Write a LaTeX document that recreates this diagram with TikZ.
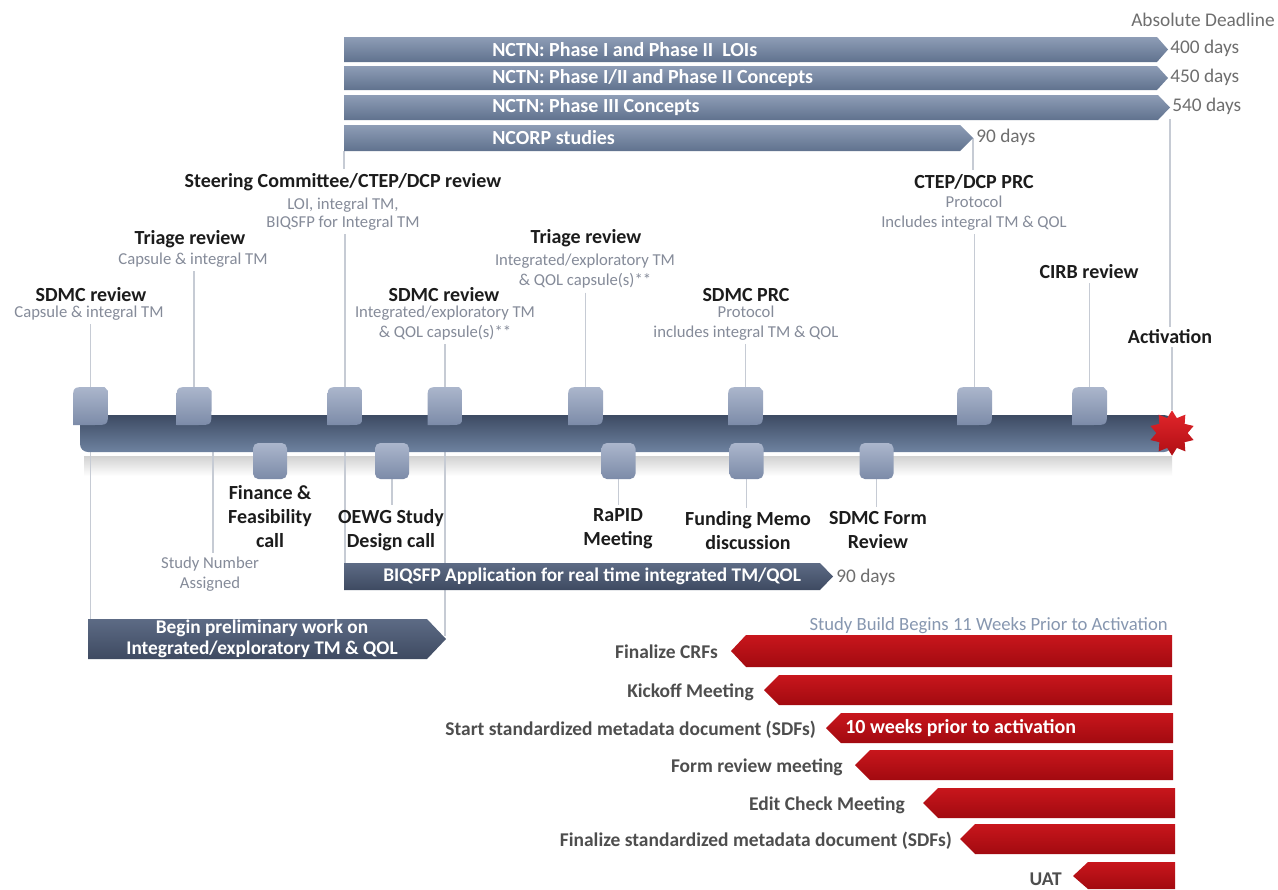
\documentclass[tikz,border=0pt]{standalone}
\usepackage{fontspec}
\setmainfont{Carlito}
\usetikzlibrary{shapes.geometric}
\definecolor{barTop}{HTML}{8E9DB6}
\definecolor{barBot}{HTML}{60728E}
\definecolor{darkTop}{HTML}{5D6B85}
\definecolor{darkBot}{HTML}{3E4A61}
\definecolor{lineGray}{HTML}{C6CBD4}
\definecolor{subGray}{HTML}{858B99}
\definecolor{labelDark}{HTML}{1C1C1C}
\definecolor{redTop}{HTML}{C8161C}
\definecolor{redBot}{HTML}{A20A10}
\definecolor{mkTop}{HTML}{ABB6CC}
\definecolor{mkBot}{HTML}{7C8BA8}
\definecolor{tlTop}{HTML}{3D4B63}
\definecolor{tlBot}{HTML}{6E82A0}
\definecolor{daysGray}{HTML}{6E6E6E}
\definecolor{buildBlue}{HTML}{8797B0}
\definecolor{redLabel}{HTML}{4E4E4E}
\definecolor{starTop}{HTML}{E2262B}
\definecolor{starBot}{HTML}{B00E14}
\pgfdeclarelayer{back}
\pgfdeclarelayer{bg}
\pgfsetlayers{back,bg,main}
\tikzset{
  upmark/.pic={
    \shade[top color=mkTop, bottom color=mkBot] (-17.5,19) -- (-17.5,-5) .. controls (-17.5,-19) .. (-3.5,-19) -- (14,-19) -- (17.5,-15) -- (17.5,5) .. controls (17.5,19) .. (3.5,19) -- cycle;
    \coordinate (-top) at (0,-19);
    \coordinate (-bot) at (0,19);
  },
  lowmark/.pic={
    \shade[top color=mkTop, bottom color=mkBot, rounded corners=4pt] (-17,-18) rectangle (17,18);
    \coordinate (-top) at (0,-18);
    \coordinate (-bot) at (0,18);
  }
}
\begin{document}
\begin{tikzpicture}[x=0.75pt,y=-0.75pt,
  lbl/.style={font=\fontsize{15}{18}\selectfont\bfseries, text=labelDark, inner sep=0pt, align=center},
  sub/.style={font=\fontsize{12.5}{14}\selectfont, text=subGray, inner sep=0pt, align=center},
  bartext/.style={font=\fontsize{15}{16}\selectfont\bfseries, text=white, inner sep=0pt, anchor=west},
  days/.style={font=\fontsize{14.5}{16}\selectfont, text=daysGray, inner sep=0pt, anchor=west},
  redlbl/.style={font=\fontsize{14.6}{16}\selectfont\bfseries, text=redLabel, inner sep=0pt, anchor=east},
  vline/.style={draw=lineGray, line width=1.1pt},
  bluebar/.style={top color=barTop, bottom color=barBot},
  darkbar/.style={top color=darkTop, bottom color=darkBot},
  redbar/.style={top color=redTop, bottom color=redBot},
]
\useasboundingbox (0,0) rectangle (1278,889);
\begin{pgfonlayer}{back}
\fill[white] (0,0) rectangle (1278,889);
\shade[top color=black!18, bottom color=white] (84,456) rectangle (1172,476);
\end{pgfonlayer}

% reference coordinates
\coordinate (b3tip) at (1170,119);
\coordinate (b4bl) at (344,151);
\coordinate (b4tip) at (973,138);
\coordinate (pretop) at (91,619);
\coordinate (pretip) at (446,636);
\coordinate (biqtop) at (345,563);
\coordinate (trlow) at (213,440);

% top bars
\shade[bluebar] (344,37) -- (1157,37) -- (1168,49.5) -- (1157,62) -- (344,62) -- cycle;
\shade[bluebar] (344,66) -- (1157,66) -- (1168,78) -- (1157,90) -- (344,90) -- cycle;
\shade[bluebar] (344,95) -- (1158,95) -- (1170,107.5) -- (1158,120) -- (344,120) -- cycle;
\shade[bluebar] (344,125) -- (960,125) -- (973,138) -- (960,151) -- (344,151) -- cycle;
\node[bartext] (b1t) at (492,49.5) {NCTN: Phase I and Phase II\ \ LOIs};
\node[bartext] (b2t) at (492,78) {NCTN: Phase I/II and Phase II Concepts};
\node[bartext] (b3t) at (492,107.5) {NCTN: Phase III Concepts};
\node[bartext] (b4t) at (492,138) {NCORP studies};
\node[days] (d1) at (1170,48) {400 days};
\node[days] (d2) at (1170,77) {450 days};
\node[days] (d3) at (1172,106) {540 days};
\node[days] (d4) at (976,137) {90 days};
\node[days, anchor=east] (absd) at (1275,20) {Absolute Deadline};

% timeline
\shade[top color=tlTop, bottom color=tlBot, rounded corners=6pt] (1172,415) -- (80,415) -- (80,452) -- (1172,452) -- cycle;

% markers
\pic (m1) at (90.5,406) {upmark};
\pic (m2) at (194,406) {upmark};
\pic (m3) at (345,406) {upmark};
\pic (m4) at (445,406) {upmark};
\pic (m5) at (585.5,406) {upmark};
\pic (m6) at (745.5,406) {upmark};
\pic (m7) at (974.5,406) {upmark};
\pic (m8) at (1089.5,406) {upmark};
\pic (l1) at (270,461) {lowmark};
\pic (l2) at (392,461) {lowmark};
\pic (l3) at (618.5,461) {lowmark};
\pic (l4) at (746.5,461) {lowmark};
\pic (l5) at (876.5,461) {lowmark};
\node[star, star points=10, star point ratio=1.45, minimum size=34pt, inner sep=0pt, top color=starTop, bottom color=starBot] (star) at (1172,433) {};

% upper labels
\node[lbl] (sdmc1) at (91,295) {SDMC review};
\node[sub] (sdmc1s) at (89,313) {Capsule \& integral TM};
\node[lbl] (tri1) at (190,239) {Triage review};
\node[sub] (tri1s) at (193,260) {Capsule \& integral TM};
\node[lbl] (steer) at (343,182) {Steering Committee/CTEP/DCP review};
\node[sub, font=\fontsize{12.5}{13.5}\selectfont] (steers) at (343,214) {LOI, integral TM,\\BIQSFP for Integral TM};
\node[lbl] (sdmc2) at (444,295) {SDMC review};
\node[sub, font=\fontsize{12.5}{15}\selectfont] (sdmc2s) at (445,323) {Integrated/exploratory TM\\\& QOL capsule(s)**};
\node[lbl] (tri2) at (586,238) {Triage review};
\node[sub, font=\fontsize{12.5}{15.5}\selectfont] (tri2s) at (585,271) {Integrated/exploratory TM\\\& QOL capsule(s)**};
\node[lbl] (prc) at (746,295) {SDMC PRC};
\node[sub, font=\fontsize{12.5}{15}\selectfont] (prcs) at (746,323) {Protocol\\includes integral TM \& QOL};
\node[lbl] (ctep) at (974,182) {CTEP/DCP PRC};
\node[sub, font=\fontsize{12.5}{15}\selectfont] (cteps) at (974,213) {Protocol\\Includes integral TM \& QOL};
\node[lbl] (cirb) at (1089,272) {CIRB review};
\node[lbl] (act) at (1170,337) {Activation};

% lower labels
\node[lbl] (fin) at (270,517) {Finance \&\\Feasibility\\call};
\node[lbl] (oewg) at (391,530) {OEWG Study\\Design call};
\node[lbl] (rapid) at (618,529) {RaPID\\Meeting};
\node[lbl] (fund) at (748,531) {Funding Memo\\discussion};
\node[lbl] (sdmcform) at (878,530) {SDMC Form\\Review};
\node[sub, font=\fontsize{12.5}{15}\selectfont] (studynum) at (210,574) {Study Number\\Assigned};

% dark bars
\shade[darkbar] (344,563) -- (820,563) -- (833,576.5) -- (820,590) -- (344,590) -- cycle;
\node[bartext, font=\fontsize{14.5}{16}\selectfont\bfseries] (biqt) at (383,576.5) {BIQSFP Application for real time integrated TM/QOL};
\node[days] (d5) at (836,577) {90 days};
\shade[darkbar] (88,619) -- (427,619) -- (446,639) -- (427,659) -- (88,659) -- cycle;
\node[bartext, anchor=center, align=center, font=\fontsize{14.5}{15.75}\selectfont\bfseries] (pret) at (262,639) {Begin preliminary work on\\Integrated/exploratory TM \& QOL};

% red bars
\node[days, anchor=east, font=\fontsize{14}{15}\selectfont, text=buildBlue] (build) at (1168,626) {Study Build Begins 11 Weeks Prior to Activation};
\shade[redbar] (731,651) -- (746,635) -- (1172,635) -- (1172,667) -- (746,667) -- cycle;
\shade[redbar] (764,690) -- (779,675) -- (1172,675) -- (1172,705) -- (779,705) -- cycle;
\shade[redbar] (826,728) -- (841,713) -- (1173,713) -- (1173,743) -- (841,743) -- cycle;
\shade[redbar] (855,765) -- (870,750) -- (1173,750) -- (1173,780) -- (870,780) -- cycle;
\shade[redbar] (923,803) -- (938,788) -- (1175,788) -- (1175,818) -- (938,818) -- cycle;
\shade[redbar] (960,839) -- (975,824) -- (1175,824) -- (1175,854) -- (975,854) -- cycle;
\shade[redbar] (1073,876) -- (1088,862) -- (1175,862) -- (1175,889) -- (1088,889) -- cycle;
\node[bartext] (tenw) at (845,728) {10 weeks prior to activation};
\node[redlbl] (r1) at (718,652) {Finalize CRFs};
\node[redlbl] (r2) at (754,692) {Kickoff Meeting};
\node[redlbl] (r3) at (816,730) {Start standardized metadata document (SDFs)};
\node[redlbl] (r4) at (843,767) {Form review meeting};
\node[redlbl] (r5) at (905,805) {Edit Check Meeting};
\node[redlbl] (r6) at (952,841) {Finalize standardized metadata document (SDFs)};
\node[redlbl] (r7) at (1062,879) {UAT};

% connector lines (behind)
\begin{pgfonlayer}{bg}
\draw[vline, shorten <=3pt] (m1-top |- sdmc1s.south) -- (m1-top);
\draw[vline, shorten <=3pt] (m2-top |- tri1s.south) -- (m2-top);
\draw[vline, shorten >=3pt] (b4bl) -- (b4bl |- steer.north);
\draw[vline, shorten <=3pt] (m3-top |- steers.south) -- (m3-top);
\draw[vline, shorten <=3pt] (m4-top |- sdmc2s.south) -- (m4-top);
\draw[vline, shorten <=3pt] (m5-top |- tri2s.south) -- (m5-top);
\draw[vline, shorten <=3pt] (m6-top |- prcs.south) -- (m6-top);
\draw[vline, shorten >=3pt] (b4tip) -- (b4tip |- ctep.north);
\draw[vline, shorten <=3pt] (m7-top |- cteps.south) -- (m7-top);
\draw[vline, shorten <=3pt] (m8-top |- cirb.south) -- (m8-top);
\draw[vline, shorten >=2pt] (b3tip) -- (b3tip |- act.north);
\draw[vline, shorten <=2pt] (star |- act.south) -- (star);
\draw[vline] (m1-bot) -- (m1-bot |- pretop);
\draw[vline, shorten >=3pt] (trlow) -- (trlow |- studynum.north);
\draw[vline] (m3-bot) -- (m3-bot |- biqtop);
\draw[vline] (m4-bot) -- (m4-bot |- pretip);
\draw[vline, shorten >=3pt] (l2-bot) -- (l2-bot |- oewg.north);
\draw[vline, shorten >=3pt] (l3-bot) -- (l3-bot |- rapid.north);
\draw[vline, shorten >=3pt] (l4-bot) -- (l4-bot |- fund.north);
\draw[vline, shorten >=3pt] (l5-bot) -- (l5-bot |- sdmcform.north);
\end{pgfonlayer}
\end{tikzpicture}
\end{document}
